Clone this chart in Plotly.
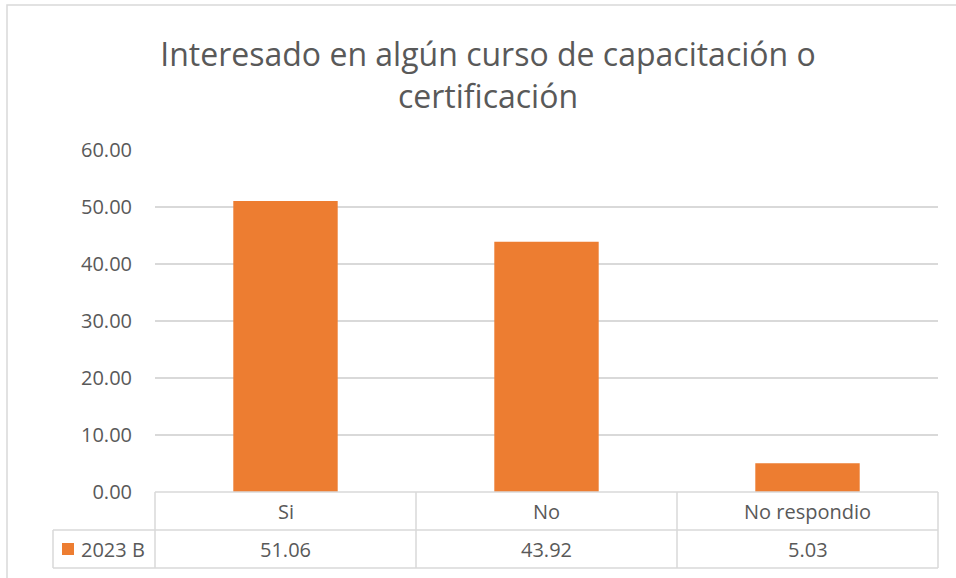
import plotly.graph_objects as go

categories = ["Si", "No", "No respondio"]
values = [51.06, 43.92, 5.03]
series_name = "2023 B"
tick_vals = [0, 10, 20, 30, 40, 50, 60]
title_text = "Interesado en algún curso de capacitación o<br>certificación"

W, H = 956, 578
L, R, T, B = 155, 938, 150, 492   # plot area in pixels
pw, ph = R - L, B - T

def px_x(p):
    return (p - L) / pw

def px_y(p):
    return (B - p) / ph

TXT = "#595959"
GRID = "#d9d9d9"
ORANGE = "#ED7D31"
FONT = "Open Sans"

fig = go.Figure()
fig.add_trace(go.Bar(x=categories, y=values, name=series_name,
                     marker=dict(color=ORANGE, line=dict(width=0)),
                     width=0.4, showlegend=False))

shapes = []
# outer chart frame
shapes.append(dict(type="rect", xref="paper", yref="paper",
                   x0=px_x(7), x1=px_x(990), y0=px_y(5), y1=px_y(600),
                   line=dict(color=GRID, width=1.5), fillcolor="rgba(0,0,0,0)", layer="below"))
# data table lines
row1, row2 = 530, 568
cols = [L + i * pw / 3 for i in range(4)]
for yy in [B, row1, row2]:
    x0 = L if yy == B else 53
    shapes.append(dict(type="line", xref="paper", yref="paper",
                       x0=px_x(x0), x1=px_x(R), y0=px_y(yy), y1=px_y(yy),
                       line=dict(color=GRID, width=1.5)))
for cx in cols:
    shapes.append(dict(type="line", xref="paper", yref="paper",
                       x0=px_x(cx), x1=px_x(cx), y0=px_y(B), y1=px_y(row2),
                       line=dict(color=GRID, width=1.5)))
shapes.append(dict(type="line", xref="paper", yref="paper",
                   x0=px_x(53), x1=px_x(53), y0=px_y(row1), y1=px_y(row2),
                   line=dict(color=GRID, width=1.5)))
# legend key square
shapes.append(dict(type="rect", xref="paper", yref="paper",
                   x0=px_x(62), x1=px_x(74), y0=px_y(543), y1=px_y(555),
                   line=dict(width=0), fillcolor=ORANGE))

annotations = []
for i, (c, v) in enumerate(zip(categories, values)):
    cx = (cols[i] + cols[i + 1]) / 2
    annotations.append(dict(x=px_x(cx), y=px_y((B + row1) / 2), xref="paper", yref="paper",
                            text=c, showarrow=False, xanchor="center", yanchor="middle",
                            font=dict(family=FONT, size=20, color=TXT)))
    annotations.append(dict(x=px_x(cx), y=px_y((row1 + row2) / 2), xref="paper", yref="paper",
                            text=f"{v:.2f}", showarrow=False, xanchor="center", yanchor="middle",
                            font=dict(family=FONT, size=20, color=TXT)))
annotations.append(dict(x=px_x(79), y=px_y((row1 + row2) / 2), xref="paper", yref="paper",
                        text=series_name, showarrow=False, xanchor="left", yanchor="middle",
                        font=dict(family=FONT, size=20, color=TXT)))

fig.update_layout(
    width=W, height=H,
    margin=dict(l=L, r=W - R, t=T, b=H - B, pad=0),
    paper_bgcolor="white", plot_bgcolor="white",
    title=dict(text=title_text, x=488 / W, xanchor="center",
               y=1 - 66 / H, yanchor="middle",
               xref="container", yref="container",
               font=dict(family=FONT, size=32, color=TXT)),
    xaxis=dict(showticklabels=False, showgrid=False, zeroline=False, showline=False,
               ticks="", range=[-0.5, 2.5]),
    yaxis=dict(range=[0, 60], tickvals=tick_vals, tickformat=".2f",
               showgrid=True, gridcolor=GRID, gridwidth=1.5, zeroline=False,
               showline=False, ticks="", ticklabelstandoff=22,
               tickfont=dict(family=FONT, size=20, color=TXT)),
    shapes=shapes, annotations=annotations,
    bargap=0.6, showlegend=False,
)
fig.write_html("out.html", config={"displayModeBar": False},
               post_script="document.body.style.margin='0';document.body.style.overflow='hidden';")
